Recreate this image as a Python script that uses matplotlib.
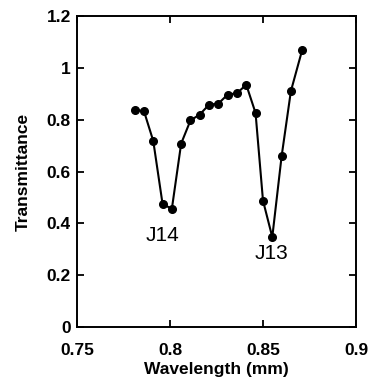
import matplotlib
matplotlib.use("Agg")
import matplotlib.pyplot as plt
from matplotlib.ticker import FuncFormatter

# wavelength (mm) and transmittance
wavelength = [0.781, 0.786, 0.791, 0.796, 0.801, 0.806, 0.811, 0.816, 0.821, 0.826,
              0.831, 0.836, 0.841, 0.846, 0.850, 0.855, 0.860, 0.865, 0.871]
transmittance = [0.838, 0.833, 0.718, 0.475, 0.456, 0.708, 0.797, 0.820, 0.858, 0.862,
                 0.897, 0.902, 0.935, 0.826, 0.488, 0.347, 0.658, 0.910, 1.067]

x_ticks = [0.75, 0.8, 0.85, 0.9]
y_ticks = [0, 0.2, 0.4, 0.6, 0.8, 1.0, 1.2]

plt.rcParams["font.family"] = ["Liberation Sans", "DejaVu Sans"]

fig = plt.figure(figsize=(3.69, 3.86), dpi=100)
ax = fig.add_axes([0.2087, 0.1528, 0.756, 0.8057])

ax.plot(wavelength, transmittance, color="black", lw=1.5, marker="o", ms=5.5)

ax.set_xlim(0.75, 0.9)
ax.set_ylim(0, 1.2)
ax.set_xticks(x_ticks)
ax.set_yticks(y_ticks)
fmt = FuncFormatter(lambda v, p: "%g" % v)
ax.xaxis.set_major_formatter(fmt)
ax.yaxis.set_major_formatter(fmt)

ax.tick_params(direction="in", top=True, right=True, length=5, width=1.3,
               labelsize=12.5)
ax.tick_params(axis="x", pad=11.5)
ax.tick_params(axis="y", pad=4.5)
for lab in ax.get_xticklabels() + ax.get_yticklabels():
    lab.set_fontweight("bold")
for s in ax.spines.values():
    s.set_linewidth(1.4)

ax.set_xlabel("Wavelength (mm)", fontsize=12.5, fontweight="bold", labelpad=3)
ax.set_ylabel("Transmittance", fontsize=12.5, fontweight="bold", labelpad=11)

ax.text(0.7961, 0.355, "J14", fontsize=15, ha="center", va="center")
ax.text(0.8545, 0.285, "J13", fontsize=15, ha="center", va="center")

fig.savefig("out.png", dpi=100)
